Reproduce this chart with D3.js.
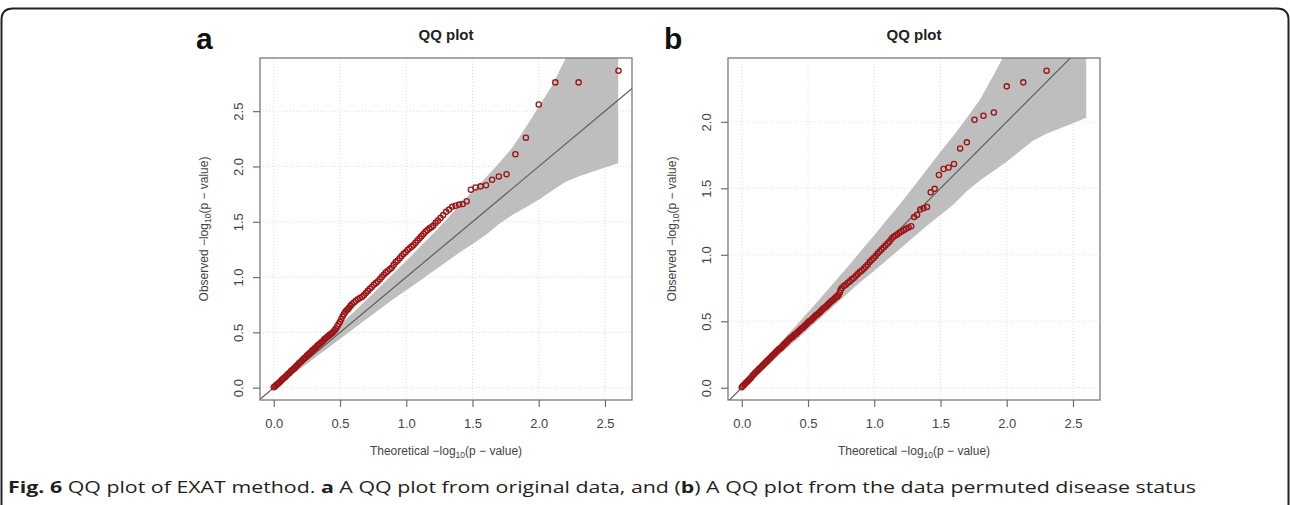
<!DOCTYPE html>
<html>
<head>
<meta charset="utf-8">
<script src="https://cdn.jsdelivr.net/npm/d3@7"></script>
<style>
  body { margin: 0; background: #fff; }
  svg { display: block; font-family: "Liberation Sans", Arial, sans-serif; }
</style>
</head>
<body>
<svg id="fig" width="1290" height="505"></svg>
<script>
// ---- data ----
var xTicks = [0, 0.5, 1, 1.5, 2, 2.5];
var yTicksA = [0, 0.5, 1, 1.5, 2, 2.5];
var yTicksB = [0, 0.5, 1, 1.5, 2];

// confidence band (same for both panels)
var bandX     = [0, 0.1, 0.2, 0.3, 0.4, 0.5, 0.6, 0.7, 0.8, 0.9, 1.0, 1.1, 1.2, 1.3, 1.4, 1.5, 1.6, 1.7, 1.8, 1.9, 2.0, 2.1, 2.2, 2.3, 2.4, 2.5, 2.6];
var bandUpper = [0, 0.12, 0.237, 0.35, 0.457, 0.568, 0.68, 0.795, 0.91, 1.03, 1.147, 1.27, 1.39, 1.515, 1.645, 1.775, 1.9, 2.03, 2.17, 2.35, 2.54, 2.73, 2.97, 3.2, 3.5, 3.85, 4.2];
var bandLower = [0, 0.078, 0.17, 0.262, 0.35, 0.44, 0.53, 0.62, 0.71, 0.80, 0.88, 0.965, 1.05, 1.135, 1.22, 1.30, 1.38, 1.48, 1.56, 1.63, 1.70, 1.78, 1.86, 1.91, 1.95, 1.99, 2.03];

// panel a: theoretical vs observed -log10(p)
var theoA = [2.602, 2.301, 2.125, 2.000, 1.903, 1.824, 1.757, 1.699, 1.648, 1.602, 1.561, 1.523, 1.488, 1.456, 1.426, 1.398, 1.372, 1.347, 1.323, 1.301, 1.279, 1.259, 1.239, 1.222, 1.204,
  1.19, 1.175, 1.16, 1.145, 1.13, 1.115, 1.10, 1.085, 1.07, 1.055, 1.04, 1.025, 1.01, 0.995, 0.98, 0.965, 0.95, 0.935, 0.92, 0.905,
  0.89, 0.875, 0.86, 0.845, 0.83, 0.815, 0.80, 0.785, 0.77, 0.755, 0.74, 0.725, 0.71, 0.695, 0.68, 0.665, 0.65, 0.635, 0.62, 0.605,
  0.59, 0.58, 0.57, 0.56, 0.55, 0.54, 0.53, 0.52, 0.51, 0.50, 0.49, 0.48, 0.47, 0.46, 0.45, 0.44, 0.43, 0.42, 0.41, 0.40,
  0.39, 0.38, 0.37, 0.36, 0.35, 0.34, 0.33, 0.32, 0.31, 0.30, 0.29, 0.28, 0.27, 0.26, 0.25, 0.24, 0.23, 0.22, 0.21, 0.20,
  0.19, 0.18, 0.17, 0.16, 0.15, 0.14, 0.13, 0.12, 0.11, 0.10, 0.09, 0.08, 0.07, 0.06, 0.05, 0.04, 0.03, 0.02, 0.01, 0.00];
var obsA = [2.866, 2.76, 2.76, 2.56, 2.26, 2.11, 1.93, 1.91, 1.88, 1.83, 1.82, 1.81, 1.79, 1.685, 1.66, 1.655, 1.645, 1.635, 1.61, 1.59, 1.56, 1.535, 1.51, 1.49, 1.465,
  1.45, 1.44, 1.425, 1.41, 1.39, 1.37, 1.35, 1.33, 1.31, 1.29, 1.275, 1.26, 1.245, 1.225, 1.21, 1.19, 1.17, 1.15, 1.135, 1.11,
  1.085, 1.07, 1.055, 1.04, 1.02, 1.00, 0.98, 0.96, 0.945, 0.93, 0.91, 0.895, 0.875, 0.855, 0.835, 0.82, 0.81, 0.80, 0.785, 0.77,
  0.755, 0.74, 0.725, 0.71, 0.70, 0.685, 0.665, 0.645, 0.62, 0.595, 0.575, 0.555, 0.535, 0.52, 0.505, 0.495, 0.485, 0.475, 0.465, 0.455,
  0.445, 0.435, 0.42, 0.41, 0.40, 0.39, 0.38, 0.365, 0.355, 0.345, 0.335, 0.32, 0.31, 0.30, 0.29, 0.275, 0.265, 0.255, 0.24, 0.23,
  0.22, 0.205, 0.195, 0.18, 0.17, 0.16, 0.15, 0.135, 0.125, 0.115, 0.10, 0.09, 0.08, 0.07, 0.055, 0.045, 0.035, 0.025, 0.012, 0.003];

// panel b: permuted disease status
var theoB = [2.301, 2.125, 2.000, 1.903, 1.824, 1.757, 1.699, 1.648, 1.602, 1.561, 1.523, 1.488, 1.456, 1.426, 1.398, 1.372, 1.347, 1.323, 1.301, 1.279, 1.259, 1.239, 1.222, 1.204,
  1.19, 1.175, 1.16, 1.145, 1.13, 1.115, 1.10, 1.085, 1.07, 1.055, 1.04, 1.025, 1.01, 0.995, 0.98, 0.965, 0.95, 0.935, 0.92, 0.905,
  0.89, 0.875, 0.86, 0.845, 0.83, 0.815, 0.80, 0.785, 0.77, 0.755, 0.745, 0.74, 0.73, 0.72, 0.71, 0.70, 0.69, 0.68, 0.67, 0.66, 0.65, 0.64, 0.63, 0.62, 0.61, 0.60,
  0.59, 0.58, 0.57, 0.56, 0.55, 0.54, 0.53, 0.52, 0.51, 0.50, 0.49, 0.48, 0.47, 0.46, 0.45, 0.44, 0.43, 0.42, 0.41, 0.40,
  0.39, 0.38, 0.37, 0.36, 0.35, 0.34, 0.33, 0.32, 0.31, 0.30, 0.29, 0.28, 0.27, 0.26, 0.25, 0.24, 0.23, 0.22, 0.21, 0.20,
  0.19, 0.18, 0.17, 0.16, 0.15, 0.14, 0.13, 0.12, 0.11, 0.10, 0.09, 0.08, 0.07, 0.06, 0.05, 0.04, 0.03, 0.02, 0.01, 0.00];
var obsB = [2.385, 2.297, 2.267, 2.07, 2.046, 2.016, 1.846, 1.80, 1.683, 1.657, 1.645, 1.60, 1.496, 1.47, 1.36, 1.35, 1.34, 1.30, 1.285, 1.215, 1.205, 1.195, 1.185, 1.175,
  1.165, 1.155, 1.145, 1.135, 1.12, 1.10, 1.085, 1.07, 1.055, 1.04, 1.025, 1.01, 0.99, 0.975, 0.96, 0.945, 0.925, 0.91, 0.895, 0.88,
  0.87, 0.855, 0.84, 0.825, 0.815, 0.80, 0.79, 0.775, 0.765, 0.75, 0.735, 0.715, 0.695, 0.685, 0.68, 0.67, 0.66, 0.655, 0.645, 0.635, 0.625, 0.615, 0.605, 0.60, 0.59, 0.58,
  0.57, 0.56, 0.55, 0.545, 0.535, 0.525, 0.515, 0.505, 0.50, 0.49, 0.48, 0.47, 0.46, 0.45, 0.445, 0.435, 0.425, 0.415, 0.405, 0.40,
  0.39, 0.38, 0.375, 0.365, 0.355, 0.345, 0.335, 0.325, 0.315, 0.305, 0.295, 0.29, 0.28, 0.27, 0.26, 0.25, 0.24, 0.23, 0.22, 0.21,
  0.20, 0.19, 0.18, 0.17, 0.16, 0.15, 0.14, 0.13, 0.12, 0.11, 0.10, 0.09, 0.075, 0.065, 0.055, 0.045, 0.035, 0.025, 0.015, 0.003];

var captionParts = [
  ["Fig. 6", true], [" QQ plot of EXAT method. ", false], ["a", true],
  [" A QQ plot from original data, and (", false], ["b", true],
  [") A QQ plot from the data permuted disease status", false]
];

// ---- drawing ----
var svg = d3.select("#fig");
var W = 372, TOP = 58, BOT = 400;

function pad(ext) {
  var d = (ext[1] - ext[0]) * 0.04;   // like R's default axis extension
  return [ext[0] - d, ext[1] + d];
}

// outer frame with rounded top corners
svg.append("path")
  .attr("d", "M1.5,505 L1.5,20 Q1.5,8.5 13,8.5 L1277,8.5 Q1288.5,8.5 1288.5,20 L1288.5,505")
  .attr("fill", "none").attr("stroke", "#222").attr("stroke-width", 2);

function axisTitle(g, cx, cy, rotate, prefix) {
  var t = g.append("text")
    .attr("transform", "translate(" + cx + "," + cy + ")" + (rotate ? " rotate(-90)" : ""))
    .attr("text-anchor", "middle")
    .attr("fill", "#444")
    .style("font-size", "12px");
  t.append("tspan").text(prefix + "  \u2212log");
  t.append("tspan").attr("dy", 3).style("font-size", "8.5px").text("10");
  t.append("tspan").attr("dy", -3).text("(p \u2212 value)");
}

function drawPanel(left, theo, obs, yTicks, letter, id) {
  var x = d3.scaleLinear().domain(pad(d3.extent(bandX))).range([left, left + W]);
  var y = d3.scaleLinear().domain(pad(d3.extent(obs))).range([BOT, TOP]);
  var g = svg.append("g");

  g.append("clipPath").attr("id", id)
    .append("rect").attr("x", left).attr("y", TOP).attr("width", W).attr("height", BOT - TOP);

  // dotted grid
  g.selectAll(".gx").data(xTicks).enter().append("line")
    .attr("x1", function(d) { return x(d); }).attr("x2", function(d) { return x(d); })
    .attr("y1", TOP).attr("y2", BOT)
    .attr("stroke", "#dcdcdc").attr("stroke-dasharray", "1,2");
  g.selectAll(".gy").data(yTicks).enter().append("line")
    .attr("y1", function(d) { return y(d); }).attr("y2", function(d) { return y(d); })
    .attr("x1", left).attr("x2", left + W)
    .attr("stroke", "#dcdcdc").attr("stroke-dasharray", "1,2");

  // confidence band
  var area = d3.area()
    .x(function(d, i) { return x(bandX[i]); })
    .y0(function(d, i) { return y(bandLower[i]); })
    .y1(function(d, i) { return y(bandUpper[i]); });
  g.append("path").datum(bandX)
    .attr("d", area)
    .attr("fill", "#bebebe")
    .attr("clip-path", "url(#" + id + ")");

  // y = x reference line
  g.append("line")
    .attr("x1", x(-1)).attr("y1", y(-1)).attr("x2", x(4)).attr("y2", y(4))
    .attr("stroke", "#555").attr("stroke-width", 1.1)
    .attr("clip-path", "url(#" + id + ")");

  // points
  g.selectAll(".pt").data(theo).enter().append("circle")
    .attr("cx", function(d) { return x(d); })
    .attr("cy", function(d, i) { return y(obs[i]); })
    .attr("r", 2.6)
    .attr("fill", "none").attr("stroke", "#9c1414").attr("stroke-width", 1.35);

  // box
  g.append("rect").attr("x", left).attr("y", TOP).attr("width", W).attr("height", BOT - TOP)
    .attr("fill", "none").attr("stroke", "#6e6e6e").attr("stroke-width", 1.2);

  // axes
  var xa = g.append("g").attr("transform", "translate(0," + BOT + ")")
    .call(d3.axisBottom(x).tickValues(xTicks).tickFormat(d3.format(".1f")).tickSize(7).tickPadding(12));
  xa.select(".domain").remove();
  xa.selectAll("line").attr("stroke", "#6e6e6e").attr("stroke-width", 1.2);
  xa.selectAll("text").attr("fill", "#444").style("font-size", "13px")
    .style("font-family", "'Liberation Sans', Arial, sans-serif");

  var ya = g.append("g").attr("transform", "translate(" + left + ",0)")
    .call(d3.axisLeft(y).tickValues(yTicks).tickFormat(d3.format(".1f")).tickSize(7));
  ya.select(".domain").remove();
  ya.selectAll("line").attr("stroke", "#6e6e6e").attr("stroke-width", 1.2);
  ya.selectAll("text")
    .attr("x", 0).attr("y", 0).attr("dy", null)
    .attr("transform", "translate(-17,0) rotate(-90)")
    .attr("text-anchor", "middle")
    .attr("fill", "#444").style("font-size", "13px")
    .style("font-family", "'Liberation Sans', Arial, sans-serif");

  // titles
  var cx = left + W / 2;
  g.append("text").attr("x", cx).attr("y", 40).attr("text-anchor", "middle")
    .style("font-size", "15px").style("font-weight", "bold").attr("fill", "#222")
    .text("QQ plot");
  g.append("text").attr("x", left - 64).attr("y", 49)
    .style("font-size", "30px").style("font-weight", "bold").attr("fill", "#111")
    .text(letter);

  axisTitle(g, cx, 455, false, "Theoretical");
  axisTitle(g, left - 52, (TOP + BOT) / 2, true, "Observed");
}

drawPanel(260, theoA, obsA, yTicksA, "a", "clipA");
drawPanel(728, theoB, obsB, yTicksB, "b", "clipB");

// caption
var cap = svg.append("text")
  .attr("x", 8).attr("y", 493)
  .attr("fill", "#231f20")
  .style("font-family", "'Open Sans', sans-serif")
  .style("font-size", "15.5px");
captionParts.forEach(function(p) {
  cap.append("tspan").text(p[0]).style("font-weight", p[1] ? "bold" : "normal");
});
cap.attr("textLength", 1188).attr("lengthAdjust", "spacingAndGlyphs");
</script>
</body>
</html>
